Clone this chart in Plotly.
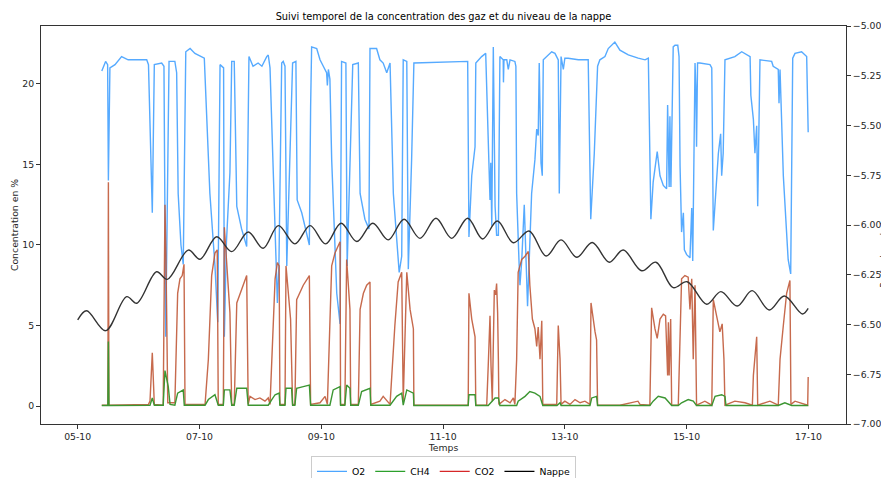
import pandas as pd
import plotly.graph_objects as go

# ---------------- data (hours since 2023-10-05 00:00) ----------------
base_date = "2023-10-05"

o2_hours = [9.5, 11.0, 11.8, 12.1, 12.7, 14.7, 17.3, 19.9, 27.2, 27.9,
            29.4, 30.2, 33.1, 34.0, 34.7, 36.0, 38.3, 39.0, 39.6, 40.7,
            41.6, 42.6, 44.3, 46.2, 49.9, 52.1, 54.1, 55.2, 56.1, 56.9,
            57.5, 57.8, 58.6, 60.0, 60.7, 61.7, 62.7, 64.6, 66.6, 67.5,
            69.1, 71.1, 72.6, 74.5, 75.1, 75.8, 77.0, 78.7, 79.3, 80.4,
            81.0, 81.7, 82.4, 83.2, 83.9, 84.7, 86.0, 86.5, 88.3, 90.2,
            91.3, 91.8, 92.2, 94.2, 95.5, 96.8, 98.1, 98.4, 98.8, 99.4,
            100.1, 102.1, 103.4, 104.0, 105.7, 106.2, 107.3, 108.4, 110.6, 111.3,
            113.2, 114.8, 115.2, 117.8, 119.1, 120.4, 121.8, 123.1, 124.4, 126.7,
            127.7, 128.3, 129.7, 130.3, 131.6, 132.5, 153.7, 154.2, 155.3, 156.6,
            156.9, 159.2, 160.8, 161.2, 161.8, 162.5, 162.8, 163.2, 163.8, 164.5,
            165.1, 165.8, 166.4, 167.7, 167.8, 168.0, 169.1, 169.7, 170.4, 172.3,
            172.7, 173.0, 173.9, 174.3, 175.0, 176.0, 177.3, 178.9, 180.2, 180.9,
            181.5, 181.9, 182.6, 183.1, 183.5, 186.8, 188.1, 189.4, 189.8, 190.5,
            191.4, 192.0, 193.3, 197.3, 201.2, 202.2, 203.6, 204.9, 205.8, 207.8,
            209.1, 211.7, 213.7, 217.0, 220.9, 223.6, 224.9, 225.9, 226.8, 228.4,
            229.5, 230.8, 232.1, 232.5, 233.1, 233.4, 233.8, 234.7, 235.4, 236.5,
            237.0, 237.4, 238.0, 238.7, 239.1, 240.0, 241.3, 242.0, 242.4, 243.3,
            243.6, 243.9, 244.3, 245.2, 249.2, 249.9, 250.5, 252.5, 253.4, 253.8,
            254.4, 255.1, 259.0, 261.7, 265.0, 265.3, 266.3, 266.9, 267.6, 268.0,
            268.9, 273.5, 274.1, 276.1, 276.4, 276.8, 278.1, 280.0, 281.0, 281.8,
            282.7, 285.3, 287.3, 287.9]
o2_values = [20.8, 21.4, 21.2, 14.0, 21.0, 21.2, 21.7, 21.5, 21.5, 21.2,
             12.0, 21.2, 21.3, 21.1, 4.3, 21.4, 21.4, 20.7, 13.2, 10.0,
             8.8, 22.0, 22.2, 21.9, 21.6, 13.2, 8.7, 5.2, 21.2, 21.1,
             21.0, 4.3, 10.1, 14.5, 21.4, 21.4, 12.4, 11.0, 9.9, 21.7,
             21.1, 21.3, 21.1, 21.7, 21.8, 21.0, 15.0, 6.4, 8.7, 21.3,
             21.4, 21.1, 8.7, 13.2, 15.7, 21.3, 21.4, 12.8, 12.0, 10.8,
             10.0, 18.6, 22.3, 22.2, 21.5, 21.1, 20.7, 19.9, 20.9, 20.3,
             15.3, 7.0, 5.1, 21.4, 21.3, 8.7, 15.3, 21.2, 21.3, 13.2,
             11.6, 11.0, 22.2, 22.2, 21.5, 21.3, 20.7, 21.3, 13.2, 8.3,
             9.3, 21.5, 21.4, 8.5, 15.3, 21.3, 21.4, 10.5, 14.3, 16.1,
             21.3, 21.7, 21.9, 19.5, 17.4, 12.8, 15.1, 11.2, 22.3, 12.4,
             10.6, 10.6, 21.7, 21.5, 20.1, 21.5, 21.5, 20.9, 21.5, 21.4,
             21.1, 13.2, 9.1, 7.5, 9.0, 12.5, 6.2, 13.2, 15.3, 17.2,
             16.8, 21.3, 15.1, 14.3, 21.5, 22.0, 21.9, 21.5, 13.2, 21.7,
             20.9, 21.6, 21.6, 21.5, 21.5, 11.6, 15.7, 21.1, 21.5, 21.7,
             22.2, 22.6, 22.1, 21.8, 21.6, 21.5, 21.6, 11.6, 13.9, 15.8,
             14.3, 13.7, 13.5, 18.7, 13.6, 18.0, 13.6, 22.3, 22.4, 22.4,
             21.7, 14.9, 10.8, 12.0, 9.7, 9.4, 9.2, 12.3, 9.0, 21.3,
             19.9, 16.1, 21.3, 21.3, 21.2, 21.0, 10.9, 15.7, 16.9, 14.3,
             15.7, 21.5, 21.7, 22.0, 21.7, 19.3, 17.8, 15.7, 17.4, 12.4,
             21.5, 21.4, 21.1, 20.9, 18.8, 20.9, 14.3, 9.1, 8.2, 21.6,
             21.9, 22.0, 21.7, 17.0]

co2_hours = [9.5, 11.9, 12.1, 12.3, 27.9, 28.5, 29.4, 30.2, 33.7, 34.4,
             34.8, 35.1, 35.5, 38.3, 39.4, 40.3, 41.2, 41.9, 42.3, 46.2,
             50.2, 51.5, 52.8, 54.1, 55.0, 55.4, 57.4, 57.8, 58.7, 59.3,
             60.0, 60.7, 61.7, 62.7, 64.0, 65.3, 66.6, 67.2, 67.9, 69.9,
             71.8, 73.8, 75.1, 75.8, 77.8, 78.7, 79.4, 79.7, 81.7, 82.1,
             83.0, 83.9, 84.7, 85.6, 86.3, 87.6, 88.9, 91.3, 91.8, 95.5,
             97.5, 98.4, 99.4, 100.1, 101.4, 103.4, 103.6, 105.3, 106.0, 106.6,
             107.3, 107.6, 110.6, 111.3, 112.6, 113.9, 115.2, 115.5, 119.1, 120.4,
             123.1, 125.0, 126.3, 127.7, 128.3, 129.7, 131.0, 132.3, 132.5, 153.9,
             154.2, 155.3, 156.6, 156.9, 161.2, 161.8, 162.5, 162.9, 163.4, 164.2,
             164.7, 165.1, 165.5, 165.8, 166.0, 168.4, 170.4, 171.7, 172.3, 173.0,
             173.6, 175.0, 176.3, 177.6, 178.2, 179.2, 180.2, 180.9, 181.5, 182.2,
             182.9, 183.3, 188.8, 189.4, 190.1, 190.5, 192.0, 194.0, 196.0, 198.0,
             199.9, 201.9, 202.3, 203.9, 204.5, 204.9, 213.7, 220.8, 221.6, 225.5,
             226.2, 227.5, 228.4, 229.5, 230.8, 231.7, 232.5, 232.8, 233.1, 233.7,
             234.1, 236.7, 237.4, 238.0, 239.3, 240.6, 241.3, 242.0, 242.6, 243.3,
             243.9, 247.2, 249.9, 250.5, 251.8, 253.1, 254.0, 254.7, 255.1, 259.0,
             263.0, 265.9, 266.3, 267.6, 268.0, 272.8, 276.1, 276.8, 278.1, 279.4,
             280.7, 281.1, 282.7, 284.6, 287.7, 287.9]
co2_values = [0.05, 0.05, 13.9, 0.05, 0.1, 0.3, 3.3, 0.1, 0.05, 12.5,
              9.1, 6.0, 0.2, 0.2, 7.0, 7.9, 8.1, 8.8, 0.1, 0.1,
              0.1, 2.9, 8.1, 9.5, 9.7, 0.1, 0.1, 11.1, 8.7, 7.0,
              5.8, 0.1, 0.1, 6.4, 7.0, 7.5, 8.1, 0.1, 0.6, 0.4,
              0.5, 0.3, 0.5, 0.1, 7.9, 8.9, 8.7, 0.1, 0.1, 8.7,
              7.0, 5.4, 0.1, 0.1, 6.6, 7.0, 7.5, 8.1, 0.1, 0.2,
              0.6, 0.1, 5.0, 8.7, 9.5, 10.2, 0.1, 0.1, 9.1, 7.7,
              6.0, 0.1, 0.1, 6.0, 7.0, 7.5, 7.7, 0.1, 0.3, 0.6,
              0.1, 5.0, 7.7, 8.3, 0.3, 8.3, 6.0, 4.8, 0.05, 0.05,
              7.0, 5.4, 4.3, 0.05, 0.05, 2.5, 5.6, 2.5, 0.3, 7.2,
              6.9, 7.6, 5.8, 2.9, 0.1, 0.4, 0.2, 0.5, 0.1, 2.9,
              8.3, 9.1, 9.3, 9.6, 7.5, 5.4, 4.8, 3.7, 4.9, 2.9,
              5.3, 0.1, 0.1, 5.0, 2.9, 0.1, 0.3, 0.1, 0.4, 0.2,
              0.3, 0.1, 6.4, 4.6, 4.1, 0.05, 0.05, 0.3, 0.1, 0.05,
              6.1, 4.8, 4.2, 5.4, 5.7, 5.6, 1.9, 5.2, 1.9, 5.4,
              0.05, 0.05, 5.0, 7.9, 8.1, 8.0, 6.0, 7.9, 2.9, 7.5,
              0.05, 0.3, 0.05, 6.6, 5.6, 4.6, 5.1, 2.9, 0.05, 0.3,
              0.2, 0.05, 1.9, 4.3, 0.05, 0.3, 0.05, 2.9, 5.0, 7.0,
              7.8, 0.1, 0.3, 0.2, 0.05, 1.8]

ch4_hours = [9.5, 11.9, 12.1, 12.3, 28.5, 29.4, 30.2, 33.7, 34.4, 35.1,
             35.7, 36.4, 38.3, 39.4, 40.3, 41.6, 42.0, 50.2, 51.5, 54.1,
             55.4, 57.4, 57.8, 60.0, 60.7, 61.7, 62.7, 66.6, 67.2, 75.1,
             76.5, 77.8, 79.4, 79.7, 81.7, 82.1, 84.3, 84.7, 85.6, 86.3,
             88.9, 91.3, 91.8, 99.4, 100.7, 103.4, 103.6, 105.3, 106.0, 107.3,
             107.6, 110.6, 111.9, 115.2, 115.5, 123.1, 125.7, 127.7, 128.3, 129.7,
             132.3, 132.5, 153.9, 154.2, 156.6, 156.9, 161.8, 163.2, 164.5, 165.8,
             166.4, 173.0, 173.6, 176.3, 178.2, 180.2, 182.2, 183.3, 188.9, 190.1,
             190.5, 201.9, 202.6, 204.5, 204.9, 225.5, 226.8, 228.8, 231.5, 234.1,
             236.7, 238.0, 240.6, 242.6, 243.9, 249.9, 251.2, 253.8, 255.1, 255.5,
             276.1, 278.7, 281.4, 287.9]
ch4_values = [0.03, 0.03, 4.0, 0.03, 0.05, 0.5, 0.05, 0.05, 2.2, 1.7,
              1.2, 0.1, 0.05, 0.8, 0.9, 1.0, 0.05, 0.05, 0.4, 0.7,
              0.05, 0.05, 1.0, 1.0, 0.05, 0.05, 1.1, 1.1, 0.05, 0.05,
              0.4, 0.7, 0.8, 0.05, 0.05, 1.1, 1.1, 0.05, 0.05, 1.1,
              1.2, 1.3, 0.05, 0.05, 1.0, 1.2, 0.05, 0.05, 1.3, 1.1,
              0.05, 0.05, 0.9, 1.1, 0.05, 0.05, 0.6, 0.8, 0.05, 1.0,
              0.8, 0.03, 0.03, 0.7, 0.7, 0.03, 0.03, 0.3, 0.5, 0.5,
              0.03, 0.03, 0.3, 0.6, 0.9, 0.8, 0.6, 0.03, 0.03, 0.2,
              0.03, 0.03, 0.5, 0.6, 0.03, 0.03, 0.3, 0.6, 0.5, 0.03,
              0.03, 0.2, 0.4, 0.3, 0.03, 0.03, 0.6, 0.7, 0.6, 0.03,
              0.03, 0.2, 0.03, 0.03]

nappe_hours = [0.0, 3.5, 11.0, 19.3, 23.3, 31.1, 35.3, 43.6, 48.2, 54.8,
               60.7, 67.2, 73.1, 79.1, 85.6, 91.6, 97.7, 103.8, 110.0, 116.3,
               122.4, 128.6, 134.9, 141.2, 147.4, 153.7, 159.6, 165.4, 171.7, 177.9,
               184.6, 190.5, 196.7, 202.8, 209.5, 215.0, 222.3, 227.9, 234.7, 240.2,
               247.9, 253.5, 259.9, 265.8, 272.5, 278.5, 285.6, 287.9]
nappe_values = [-6.477, -6.431, -6.531, -6.360, -6.393, -6.235, -6.273, -6.126, -6.172, -6.059,
                -6.134, -6.035, -6.117, -6.003, -6.095, -6.003, -6.095, -5.991, -6.083, -5.991,
                -6.075, -5.971, -6.067, -5.966, -6.067, -5.966, -6.070, -5.980, -6.089, -6.030,
                -6.156, -6.075, -6.162, -6.088, -6.187, -6.126, -6.230, -6.187, -6.315, -6.285,
                -6.398, -6.335, -6.407, -6.330, -6.427, -6.357, -6.447, -6.419]

left_ticks = [0, 5, 10, 15, 20]
right_ticks = [-7.0, -6.75, -6.5, -6.25, -6.0, -5.75, -5.5, -5.25, -5.0]
series_names = ["O2", "CH4", "CO2", "Nappe"]

# ---------------- build ----------------
base = pd.Timestamp(base_date)


def to_time(hours):
    return base + pd.to_timedelta(hours, unit="h")


col_o2 = "#4da6ff"
col_ch4 = "#3c9632"
col_co2 = "#c15a3a"
col_nappe = "#333333"

fig = go.Figure()
fig.add_trace(go.Scatter(x=to_time(o2_hours), y=o2_values, mode="lines",
                         line=dict(color=col_o2, width=1.4), opacity=0.95,
                         showlegend=False, name="O2"))
fig.add_trace(go.Scatter(x=to_time(co2_hours), y=co2_values, mode="lines",
                         line=dict(color=col_co2, width=1.4), opacity=0.9,
                         showlegend=False, name="CO2"))
fig.add_trace(go.Scatter(x=to_time(ch4_hours), y=ch4_values, mode="lines",
                         line=dict(color=col_ch4, width=1.4),
                         showlegend=False, name="CH4"))
fig.add_trace(go.Scatter(x=to_time(nappe_hours), y=nappe_values, mode="lines",
                         line=dict(color=col_nappe, width=1.4, shape="spline", smoothing=1.0),
                         yaxis="y2", showlegend=False, name="Nappe"))

# legend entries (legend colours as in reference)
legend_cols = ["#4da6ff", "#2ca02c", "#d62728", "#000000"]
for name, c in zip(series_names, legend_cols):
    fig.add_trace(go.Scatter(x=[None], y=[None], mode="lines", name=name,
                             line=dict(color=c, width=1.3)))

FS = 9.3
axis_font = dict(family="DejaVu Sans", size=FS, color="#262626")

# the page body adds an 8 px offset, so the figure is 8 px smaller
FIG_W, FIG_H = 881, 470

fig.update_layout(
    width=FIG_W, height=FIG_H,
    margin=dict(l=33, r=43, t=18, b=54, autoexpand=False),
    paper_bgcolor="white", plot_bgcolor="white",
    font=axis_font,
    title=dict(text="Suivi temporel de la concentration des gaz et du niveau de la nappe",
               x=0.5, xref="paper", xanchor="center",
               y=1 - 9 / FIG_H, yref="container", yanchor="middle",
               font=dict(family="DejaVu Sans", size=9.8, color="#000000")),
    xaxis=dict(type="date", automargin=False,
               range=[to_time(-14.46), to_time(302.8)],
               tick0=base_date, dtick=2 * 86400000, tickformat="%d-%m",
               showline=True, linecolor="#333333", linewidth=1, mirror=True,
               ticks="outside", ticklen=4, tickcolor="#333333",
               showgrid=False, zeroline=False,
               title=dict(text="Temps", standoff=2, font=axis_font)),
    yaxis=dict(range=[-1.118, 23.6], tickvals=left_ticks, automargin=False,
               showline=True, linecolor="#333333", linewidth=1,
               ticks="outside", ticklen=4, tickcolor="#333333",
               showgrid=False, zeroline=False,
               title=dict(text="Concentration en %", standoff=2, font=axis_font)),
    yaxis2=dict(range=[-7.0, -5.0], tickvals=right_ticks, tickformat=".2f",
                overlaying="y", side="right", automargin=False,
                showline=True, linecolor="#333333", linewidth=1,
                ticks="outside", ticklen=4, tickcolor="#333333",
                showgrid=False, zeroline=False),
    legend=dict(orientation="h", x=0.5, xanchor="center", y=-0.080, yanchor="top",
                bgcolor="white", bordercolor="#cccccc", borderwidth=1,
                font=dict(family="DejaVu Sans", size=FS, color="#000000"),
                itemwidth=30),
    annotations=[dict(text="Profondeur de la nappe en m", textangle=-90,
                      xref="paper", yref="paper", x=1.0478, y=0.5,
                      xanchor="center", yanchor="middle", showarrow=False,
                      font=dict(family="DejaVu Sans", size=8.5, color="#262626"))],
)

fig.write_html("out.html")
